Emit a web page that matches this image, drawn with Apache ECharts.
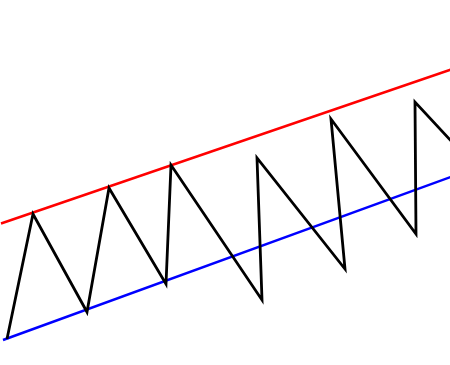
<!DOCTYPE html>
<html><head><meta charset="utf-8">
<script src="https://cdn.jsdelivr.net/npm/echarts@6/dist/echarts.min.js"></script>
<style>html,body{margin:0;padding:0;background:#fff}#c{width:450px;height:365px}</style>
</head><body><div id="c"></div>
<script>
var zigX = [7, 33, 87, 109, 166, 171, 262, 257, 345, 331, 416, 415, 480];
var zigY = [339, 214, 312, 188, 284, 165, 300, 158, 269, 119, 234, 102, 172];
var upperX = [1, 470];
var upperY = [223.5, 63];
var lowerX = [3, 470];
var lowerY = [340, 170];
function pairs(xs, ys){ return xs.map(function(x,i){return [x, ys[i]];}); }
var chart = echarts.init(document.getElementById('c'));
chart.setOption({
  animation:false,
  grid:{left:0,right:0,top:0,bottom:0},
  xAxis:{type:'value',min:0,max:450,show:false},
  yAxis:{type:'value',min:0,max:365,inverse:true,show:false},
  series:[
    {type:'line',data:pairs(upperX,upperY),symbol:'none',lineStyle:{color:'#ff0000',width:2.5},clip:true},
    {type:'line',data:pairs(lowerX,lowerY),symbol:'none',lineStyle:{color:'#0000ff',width:2.5},clip:true},
    {type:'line',data:pairs(zigX,zigY),symbol:'none',lineStyle:{color:'#000000',width:2.8,join:'miter'},clip:true}
  ]
});
</script></body></html>
